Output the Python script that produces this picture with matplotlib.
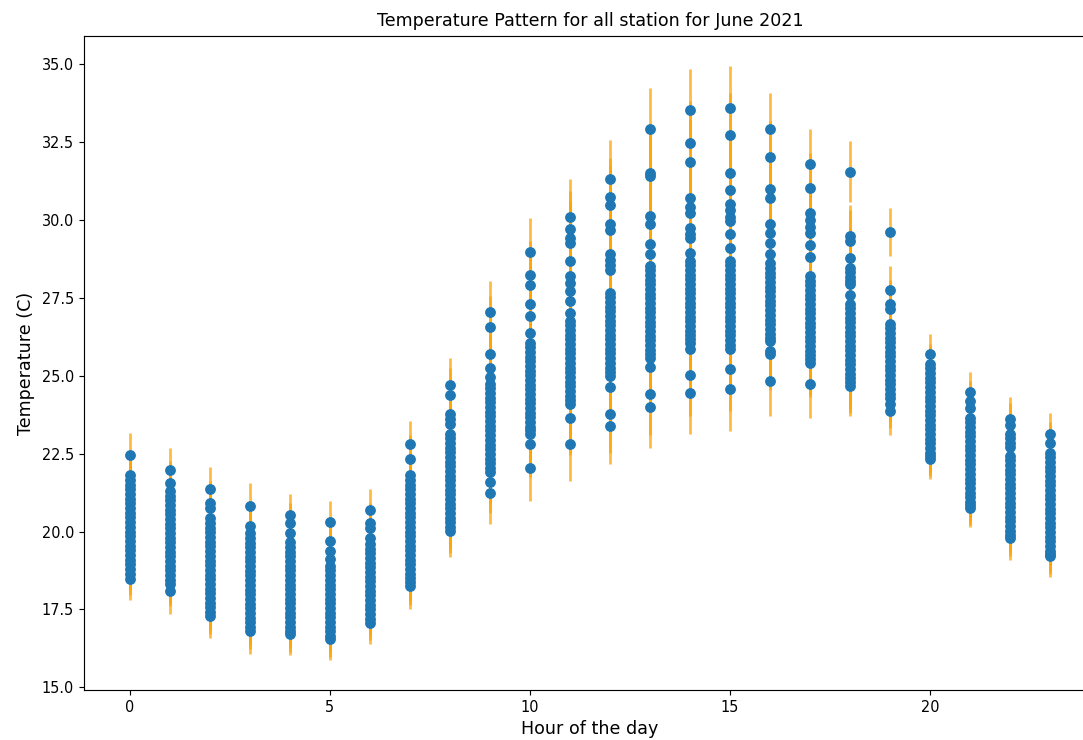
import matplotlib
matplotlib.use("Agg")
import matplotlib.pyplot as plt

# temperature readings (C) of the stations, one list per hour of the day
temps_h00 = [22.47, 21.8, 21.65, 21.5, 21.35, 21.2, 21.05, 20.9, 20.75, 20.6, 20.45, 20.3, 20.15, 20.0, 19.85,
             19.7, 19.55, 19.4, 19.25, 19.1, 18.95, 18.8, 18.65, 18.49]
temps_h01 = [21.96, 21.54, 21.3, 21.15, 21.0, 20.85, 20.7, 20.55, 20.4, 20.25, 20.1, 19.95, 19.8, 19.65, 19.5,
             19.35, 19.2, 19.05, 18.9, 18.75, 18.6, 18.45, 18.33, 18.1]
temps_h02 = [21.35, 20.9, 20.77, 20.42, 20.27, 20.12, 19.97, 19.82, 19.67, 19.52, 19.37, 19.22, 19.07, 18.92,
             18.77, 18.62, 18.47, 18.32, 18.17, 18.02, 17.87, 17.72, 17.57, 17.42, 17.3]
temps_h03 = [20.83, 20.19, 19.94, 19.79, 19.64, 19.49, 19.34, 19.19, 19.04, 18.89, 18.74, 18.59, 18.44, 18.29,
             18.14, 17.99, 17.84, 17.69, 17.54, 17.39, 17.24, 17.09, 16.94, 16.8]
temps_h04 = [20.54, 20.26, 19.94, 19.65, 19.5, 19.35, 19.2, 19.05, 18.9, 18.75, 18.6, 18.45, 18.3, 18.15, 18.0,
             17.85, 17.7, 17.55, 17.4, 17.25, 17.1, 16.95, 16.8, 16.7]
temps_h05 = [20.29, 19.71, 19.39, 19.13, 18.9, 18.75, 18.6, 18.45, 18.3, 18.15, 18.0, 17.85, 17.7, 17.55, 17.4,
             17.25, 17.1, 16.95, 16.8, 16.65, 16.55]
temps_h06 = [20.7, 20.26, 20.1, 19.78, 19.6, 19.45, 19.3, 19.15, 19.0, 18.85, 18.7, 18.55, 18.4, 18.25, 18.1,
             17.95, 17.8, 17.65, 17.5, 17.35, 17.2, 17.05]
temps_h07 = [22.82, 22.34, 21.8, 21.65, 21.5, 21.35, 21.2, 21.05, 20.9, 20.75, 20.6, 20.45, 20.3, 20.15, 20.0,
             19.85, 19.7, 19.55, 19.4, 19.25, 19.1, 18.95, 18.8, 18.65, 18.5, 18.37, 18.24]
temps_h08 = [24.71, 24.39, 23.78, 23.6, 23.45, 23.14, 22.99, 22.84, 22.69, 22.54, 22.39, 22.24, 22.09, 21.94,
             21.79, 21.64, 21.49, 21.34, 21.19, 21.04, 20.89, 20.74, 20.59, 20.44, 20.29, 20.15, 20.03]
temps_h09 = [27.05, 26.57, 25.7, 25.26, 24.97, 24.74, 24.59, 24.44, 24.29, 24.14, 23.99, 23.84, 23.69, 23.54,
             23.39, 23.24, 23.09, 22.94, 22.79, 22.64, 22.49, 22.34, 22.19, 22.04, 21.9, 21.6, 21.25]
temps_h10 = [28.97, 28.24, 27.92, 27.31, 26.92, 26.38, 26.06, 25.91, 25.76, 25.61, 25.46, 25.31, 25.16, 25.01,
             24.86, 24.71, 24.56, 24.41, 24.26, 24.11, 23.96, 23.81, 23.66, 23.51, 23.36, 23.24, 23.14, 22.82,
             22.05]
temps_h11 = [30.1, 29.71, 29.4, 29.27, 28.69, 28.2, 27.98, 27.72, 27.4, 27.02, 26.76, 26.61, 26.46, 26.31,
             26.16, 26.01, 25.86, 25.71, 25.56, 25.41, 25.26, 25.11, 24.96, 24.81, 24.66, 24.51, 24.36, 24.22,
             24.1, 23.65, 22.82]
temps_h12 = [31.31, 30.74, 30.48, 29.87, 29.68, 28.9, 28.7, 28.55, 28.4, 27.66, 27.51, 27.36, 27.21, 27.06,
             26.91, 26.76, 26.61, 26.46, 26.31, 26.16, 26.01, 25.86, 25.71, 25.56, 25.41, 25.26, 25.12, 25.0,
             24.62, 23.78, 23.4]
temps_h13 = [32.9, 31.5, 31.4, 30.13, 29.87, 29.23, 28.9, 28.53, 28.38, 28.23, 28.08, 27.93, 27.78, 27.63,
             27.48, 27.33, 27.18, 27.03, 26.88, 26.73, 26.58, 26.43, 26.28, 26.13, 25.98, 25.83, 25.7, 25.58,
             25.29, 24.42, 24.0]
temps_h14 = [33.52, 32.47, 31.86, 30.71, 30.4, 30.22, 29.74, 29.55, 29.4, 28.94, 28.69, 28.54, 28.39, 28.24,
             28.09, 27.94, 27.79, 27.64, 27.49, 27.34, 27.19, 27.04, 26.89, 26.74, 26.59, 26.44, 26.29, 26.16,
             26.06, 25.87, 25.03, 24.45]
temps_h15 = [33.59, 32.72, 31.51, 30.96, 30.5, 30.3, 30.1, 29.97, 29.55, 29.1, 28.69, 28.54, 28.39, 28.24,
             28.09, 27.94, 27.79, 27.64, 27.49, 27.34, 27.19, 27.04, 26.89, 26.74, 26.59, 26.44, 26.29, 26.14,
             25.99, 25.87, 25.22, 24.58]
temps_h16 = [32.92, 32.02, 31.0, 30.7, 29.87, 29.58, 29.27, 28.9, 28.6, 28.45, 28.3, 28.15, 28.0, 27.85, 27.7,
             27.55, 27.4, 27.25, 27.1, 26.95, 26.8, 26.65, 26.5, 26.35, 26.22, 26.12, 25.8, 25.7, 24.84]
temps_h17 = [31.8, 31.03, 30.22, 30.0, 29.77, 29.58, 29.2, 28.81, 28.2, 28.05, 27.9, 27.75, 27.6, 27.45, 27.3,
             27.15, 27.0, 26.85, 26.7, 26.55, 26.4, 26.25, 26.1, 25.95, 25.8, 25.65, 25.52, 25.42, 24.74]
temps_h18 = [31.54, 29.49, 29.33, 28.78, 28.46, 28.31, 28.16, 28.03, 27.95, 27.6, 27.31, 27.16, 27.01, 26.86,
             26.71, 26.56, 26.41, 26.26, 26.11, 25.96, 25.81, 25.66, 25.51, 25.36, 25.21, 25.06, 24.91, 24.78,
             24.68]
temps_h19 = [29.62, 27.76, 27.3, 27.15, 26.67, 26.52, 26.37, 26.22, 26.07, 25.92, 25.77, 25.62, 25.47, 25.32,
             25.17, 25.02, 24.87, 24.72, 24.57, 24.42, 24.27, 24.1, 23.88]
temps_h20 = [25.7, 25.38, 25.23, 25.08, 24.93, 24.78, 24.63, 24.48, 24.33, 24.18, 24.03, 23.88, 23.73, 23.58,
             23.43, 23.28, 23.13, 22.98, 22.83, 22.68, 22.53, 22.43, 22.34]
temps_h21 = [24.49, 24.2, 23.97, 23.65, 23.5, 23.35, 23.2, 23.05, 22.9, 22.75, 22.6, 22.45, 22.3, 22.15, 22.0,
             21.85, 21.7, 21.55, 21.4, 21.25, 21.1, 20.95, 20.85, 20.77]
temps_h22 = [23.62, 23.43, 23.14, 22.99, 22.84, 22.7, 22.43, 22.28, 22.13, 21.98, 21.83, 21.68, 21.53, 21.38,
             21.23, 21.08, 20.93, 20.78, 20.63, 20.48, 20.33, 20.18, 20.03, 19.9, 19.78]
temps_h23 = [23.14, 22.85, 22.53, 22.38, 22.23, 22.08, 21.93, 21.78, 21.63, 21.48, 21.33, 21.18, 21.03, 20.88,
             20.73, 20.58, 20.43, 20.28, 20.13, 19.98, 19.83, 19.68, 19.53, 19.38, 19.28, 19.2]

# spread (std) of each hour, used as error bar
hour_std = [0.69, 0.73, 0.72, 0.72, 0.66, 0.68, 0.67, 0.74, 0.85, 1.0, 1.08, 1.2,
            1.25, 1.33, 1.33, 1.35, 1.15, 1.1, 0.97, 0.77, 0.65, 0.63, 0.7, 0.65]

all_temps = [temps_h00, temps_h01, temps_h02, temps_h03, temps_h04, temps_h05,
             temps_h06, temps_h07, temps_h08, temps_h09, temps_h10, temps_h11,
             temps_h12, temps_h13, temps_h14, temps_h15, temps_h16, temps_h17,
             temps_h18, temps_h19, temps_h20, temps_h21, temps_h22, temps_h23]

hours, temps, errs = [], [], []
for h, vals in enumerate(all_temps):
    for v in vals:
        hours.append(h)
        temps.append(v)
        errs.append(hour_std[h])

# reference was rendered ~1.45x the default scale
plt.rcParams['xtick.labelsize'] = 14.5
plt.rcParams['ytick.labelsize'] = 14.5
plt.rcParams['xtick.major.size'] = 5
plt.rcParams['ytick.major.size'] = 5
plt.rcParams['xtick.major.width'] = 1.15
plt.rcParams['ytick.major.width'] = 1.15
plt.rcParams['xtick.major.pad'] = 5
plt.rcParams['ytick.major.pad'] = 5
plt.rcParams['axes.linewidth'] = 1.15

fig = plt.figure(figsize=(1083 / 72, 740 / 72), dpi=72)
ax = fig.add_axes([84 / 1083, 50 / 740, 1012 / 1083, 654 / 740])

ax.errorbar(hours, temps, yerr=errs, fmt='o', color='#1f77b4', ms=9.3, mew=1.5,
            ecolor=(1.0, 0.647, 0.0, 0.75), elinewidth=2.8)

ax.set_title('Temperature Pattern for all station for June 2021', fontsize=17.5, pad=9.5)
ax.set_xlabel('Hour of the day', fontsize=17.5, labelpad=5.5)
ax.set_ylabel('Temperature (C)', fontsize=17.5, labelpad=7)

fig.savefig('out.png', dpi=72)
